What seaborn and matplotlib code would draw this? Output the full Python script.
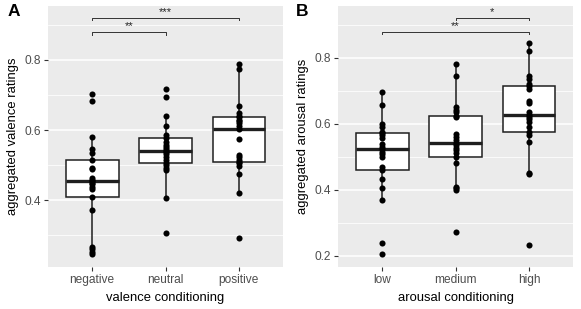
import seaborn as sns
import matplotlib.pyplot as plt
import pandas as pd
from matplotlib.ticker import MultipleLocator

# panel A: valence conditioning
valence_levels = ["negative", "neutral", "positive"]
valence_negative = [0.246, 0.252, 0.259, 0.267, 0.373, 0.409, 0.433, 0.438, 0.445, 0.450,
                    0.454, 0.457, 0.462, 0.488, 0.493, 0.514, 0.533, 0.545, 0.581, 0.683, 0.703]
valence_neutral = [0.305, 0.405, 0.486, 0.493, 0.500, 0.505, 0.514, 0.524, 0.531, 0.536,
                   0.540, 0.545, 0.551, 0.557, 0.566, 0.576, 0.586, 0.612, 0.641, 0.695, 0.717]
valence_positive = [0.292, 0.419, 0.474, 0.498, 0.505, 0.509, 0.514, 0.522, 0.529, 0.573,
                    0.603, 0.612, 0.619, 0.625, 0.630, 0.636, 0.641, 0.648, 0.669, 0.773, 0.789]
valence_sig = [(0, 1, 0.879, "**"), (0, 2, 0.920, "***")]

# panel B: arousal conditioning
arousal_levels = ["low", "medium", "high"]
arousal_low = [0.204, 0.238, 0.369, 0.404, 0.432, 0.460, 0.470, 0.498, 0.508, 0.515,
               0.523, 0.530, 0.538, 0.556, 0.565, 0.573, 0.576, 0.589, 0.599, 0.657, 0.697]
arousal_medium = [0.271, 0.399, 0.405, 0.409, 0.482, 0.500, 0.510, 0.520, 0.528, 0.535,
                  0.542, 0.551, 0.561, 0.569, 0.621, 0.624, 0.636, 0.641, 0.650, 0.745, 0.780]
arousal_high = [0.232, 0.448, 0.452, 0.545, 0.565, 0.575, 0.591, 0.606, 0.616, 0.621,
                0.626, 0.636, 0.664, 0.670, 0.705, 0.714, 0.722, 0.735, 0.745, 0.821, 0.844]
arousal_sig = [(1, 2, 0.921, "*"), (0, 2, 0.879, "**")]

plt.rcParams['font.family'] = ['Liberation Sans', 'DejaVu Sans']

GRID = "white"
INK = "#1f1f1f"


def long_df(levels, groups):
    rows = []
    for lev, vals in zip(levels, groups):
        rows += [(lev, v) for v in vals]
    return pd.DataFrame(rows, columns=["cond", "rating"])


def panel(ax, levels, groups, sig, xlab, ylab, ylim, major):
    df = long_df(levels, groups)
    ax.set_facecolor("#EBEBEB")
    ax.yaxis.set_major_locator(MultipleLocator(major))
    ax.yaxis.set_minor_locator(MultipleLocator(major / 2))
    ax.grid(which="major", color=GRID, linewidth=1.1, zorder=0)
    ax.grid(which="minor", axis="y", color=GRID, linewidth=0.55, zorder=0)
    ax.set_axisbelow(True)

    sns.boxplot(data=df, x="cond", y="rating", order=levels, ax=ax, width=0.72,
                color="white", linecolor=INK, linewidth=1.1, showfliers=False,
                whis=1.5, medianprops={"linewidth": 2.4, "color": INK},
                showcaps=False)
    sns.stripplot(data=df, x="cond", y="rating", order=levels, ax=ax, jitter=False,
                  color="black", size=4.4, linewidth=0, zorder=4)
    ax.set_xlim(-0.6, 2.6)
    ax.set_ylim(*ylim)

    # significance brackets
    for a, b, y, lab in sig:
        ax.plot([a, a, b, b], [y - 0.007, y, y, y - 0.007], color="#333333",
                linewidth=0.7, clip_on=False, zorder=5)
        ax.text((a + b) / 2, y + 0.003, lab, ha="center", va="bottom",
                fontsize=8, color="#222222")

    for s in ax.spines.values():
        s.set_visible(False)
    ax.tick_params(axis="both", which="major", length=3, width=0.8, color="#333333",
                   labelsize=8.6, labelcolor="#4D4D4D", pad=2)
    ax.tick_params(axis="y", which="minor", length=0)
    ax.set_xlabel(xlab, fontsize=9.4, color="black", labelpad=4)
    ax.set_ylabel(ylab, fontsize=9.4, color="black", labelpad=4)


fig = plt.figure(figsize=(5.81, 3.09), dpi=100)
ax_a = fig.add_axes([48 / 581, 1 - 267 / 309, 235 / 581, 261 / 309])
ax_b = fig.add_axes([338 / 581, 1 - 267 / 309, 235 / 581, 261 / 309])

panel(ax_a, valence_levels, [valence_negative, valence_neutral, valence_positive],
      valence_sig, "valence conditioning", "aggregated valence ratings",
      (0.209, 0.954), 0.2)
panel(ax_b, arousal_levels, [arousal_low, arousal_medium, arousal_high],
      arousal_sig, "arousal conditioning", "aggregated arousal ratings",
      (0.166, 0.957), 0.2)

fig.text(8 / 581, 1 - 4 / 309, "A", fontsize=12.5, fontweight="bold", va="top", ha="left")
fig.text(296 / 581, 1 - 4 / 309, "B", fontsize=12.5, fontweight="bold", va="top", ha="left")

fig.savefig("out.png", dpi=100)
